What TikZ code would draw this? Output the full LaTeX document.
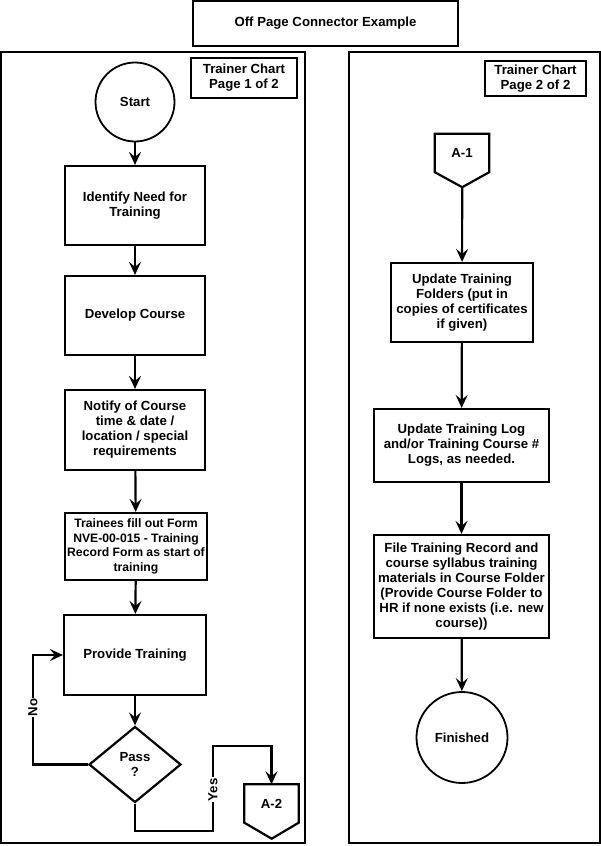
\documentclass[tikz,border=0pt]{standalone}
\usepackage{fontspec}
\setmainfont{Liberation Sans}
\usetikzlibrary{arrows.meta, positioning, shapes.geometric}
\tikzset{
  box/.style={rectangle, draw, line width=2.2pt, align=center, font=\bfseries\fontsize{13.2}{15}\selectfont,
              inner sep=2pt},
  term/.style={circle, draw, line width=1.8pt, inner sep=0pt, font=\bfseries\fontsize{13.2}{15}\selectfont},
  dec/.style={diamond, draw, line width=2.2pt, inner sep=0pt, align=center,
              font=\bfseries\fontsize{13.2}{15}\selectfont},
  % off page connector: text part only, outline drawn afterwards
  opc/.style={rectangle, minimum width=54pt, minimum height=38pt, inner sep=0pt,
              font=\bfseries\fontsize{13.2}{15}\selectfont},
  frame/.style={draw, line width=2.2pt},
  ar/.style={-{Stealth[length=13pt, width=12pt, inset=5pt]}, line width=2.2pt},
  yn/.style={fill=white, rotate=90, inner sep=1pt, font=\bfseries\fontsize{13.2}{15}\selectfont}
}
\begin{document}
\begin{tikzpicture}[x=1pt, y=-1pt]
  \useasboundingbox (0,0) rectangle (601,846);

  % --- title and page frames ---
  \node[box, minimum width=265pt, minimum height=45pt] (title) at (325.5,23.5) {Off Page Connector Example};
  \draw[frame] (1,52) rectangle (305,843);
  \draw[frame] (349,52) rectangle (600,843);
  \node[box, minimum width=106pt, minimum height=40pt] (pg1) at (244,78) {Trainer Chart\\Page 1 of 2};
  \node[box, minimum width=101pt, minimum height=35pt] (pg2) at (535.5,78.5) {Trainer Chart\\Page 2 of 2};

  % --- page 1 ---
  \node[term, minimum size=79pt] (start) at (135,102) {Start};
  \node[box, minimum width=140pt, minimum height=79pt] (ident) at (135,205.5) {Identify Need for\\Training};
  \node[box, minimum width=140pt, minimum height=79pt] (devel) at (135,315.5) {Develop Course};
  \node[box, minimum width=140pt, minimum height=80pt] (notify) at (135,430)
    {Notify of Course\\time \& date /\\location / special\\requirements};
  \node[box, minimum width=142pt, minimum height=67pt, font=\bfseries\fontsize{12.2}{14.5}\selectfont]
    (trainee) at (136,546.5)
    {Trainees fill out Form\\NVE-00-015 - Training\\Record Form as start of\\training};
  \node[box, minimum width=142pt, minimum height=80pt] (prov) at (135,655) {Provide Training};
  \node[dec, minimum width=92pt, minimum height=76pt] (pass) at (135,764.5) {Pass\\?};
  \node[opc] (a2) at (271.5,803.5) {A-2};
  \draw[frame] (a2.north west) -- (a2.north east) -- (a2.south east)
    -- ++(-27,16) coordinate (a2tip) -- (a2.south west) -- cycle;

  \draw[ar] (start) -- (ident);
  \draw[ar] (ident) -- (devel);
  \draw[ar] (devel) -- (notify);
  \draw[ar] (notify) -- (trainee);
  \draw[ar] (trainee) -- (prov);
  \draw[ar] (prov) -- (pass);
  \draw[ar] (pass.west) -- (33,764.5) |- node[yn, pos=0.26] {No} (prov.west);
  \draw[ar] (pass.south) -- ++(0,27) -| node[yn, pos=0.74] {Yes} ++(78,-85) -| (a2.north);

  % --- page 2 ---
  \node[opc] (a1) at (462,153) {A-1};
  \draw[frame] (a1.north west) -- (a1.north east) -- (a1.south east)
    -- ++(-27,15) coordinate (a1tip) -- (a1.south west) -- cycle;
  \node[box, minimum width=142pt, minimum height=79pt] (fold) at (462,302.5)
    {Update Training\\Folders (put in\\copies of certificates\\if given)};
  \node[box, minimum width=175pt, minimum height=73pt] (log) at (461.5,445.5)
    {Update Training Log\\and/or Training Course \#\\Logs, as needed.};
  \node[box, minimum width=175pt, minimum height=103pt] (file) at (461.5,586.5)
    {File Training Record and\\course syllabus training\\materials in Course Folder\\(Provide Course Folder to\\HR if none exists (i.e. new\\course))};
  \node[term, minimum size=91pt] (fin) at (462,737.5) {Finished};

  \draw[ar] (a1tip) -- (fold);
  \draw[ar] (fold) -- (log);
  \draw[ar] (log) -- (file);
  \draw[ar] (file) -- (fin);
\end{tikzpicture}
\end{document}
